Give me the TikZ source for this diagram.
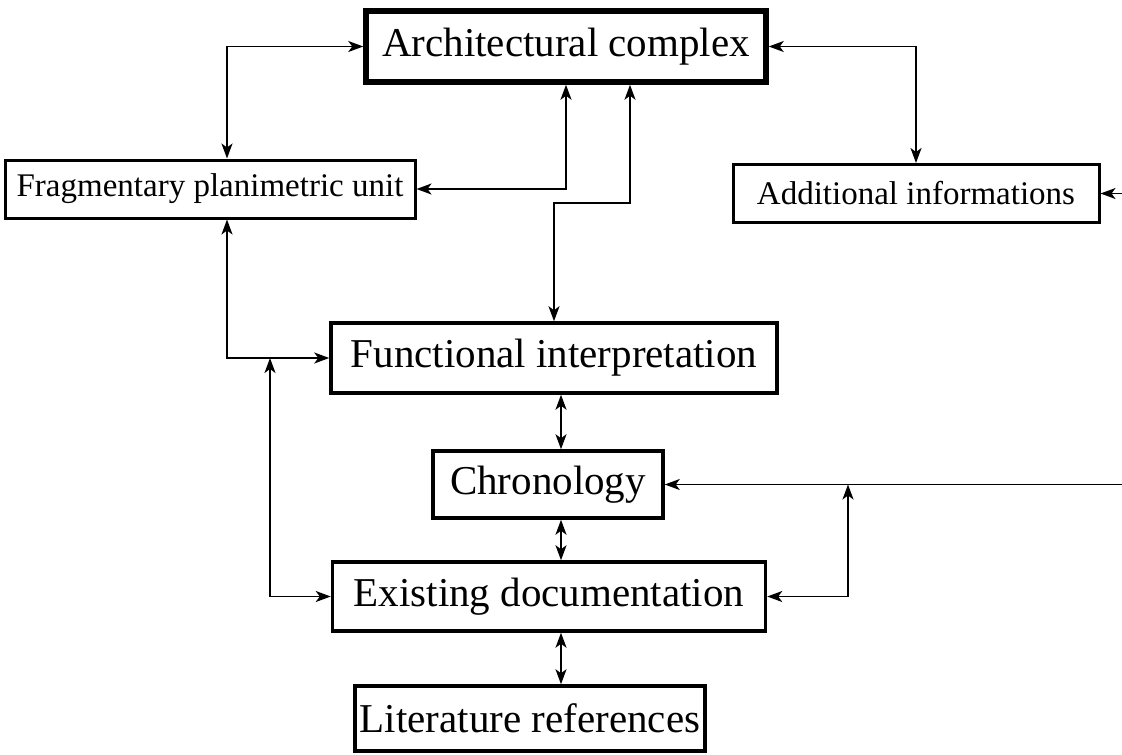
\documentclass[tikz,border=0pt]{standalone}
\usepackage{fontspec}
\setmainfont{Liberation Serif}
\usetikzlibrary{arrows.meta}
\tikzset{
  box/.style={draw, line width=3.5pt, inner sep=0pt, font=\fontsize{41}{48}\selectfont},
  smallbox/.style={draw, line width=3pt, inner sep=0pt, font=\fontsize{33}{40}\selectfont},
  link/.style={line width=1.6pt, {Stealth[length=15pt,width=11pt,inset=4pt]}-{Stealth[length=15pt,width=11pt,inset=4pt]}},
  feed/.style={line width=1.6pt, -{Stealth[length=15pt,width=11pt,inset=4pt]}},
}
\begin{document}
\begin{tikzpicture}[x=1pt, y=-1pt]
	\useasboundingbox (0,0) rectangle (1122,755);
	\node[box, line width=5.5pt, minimum width=400pt, minimum height=71pt] (arch) at (566,46.5) {Architectural complex};
	\node[smallbox, minimum width=410pt, minimum height=58pt] (frag) at (210,189) {Fragmentary planimetric unit};
	\node[smallbox, minimum width=366pt, minimum height=58pt] (addi) at (916,193.5) {Additional informations};
	\node[box, minimum width=446pt, minimum height=70pt] (func) at (554,358) {Functional interpretation};
	\node[box, minimum width=230pt, minimum height=67pt] (chron) at (548,484.5) {Chronology};
	\node[box, minimum width=433pt, minimum height=69pt] (exist) at (549,596.5) {Existing documentation};
	\node[box, minimum width=350pt, minimum height=65pt] (lit) at (530,718.5) {Literature references};
	\coordinate (left1) at (227,0);
	\coordinate (left2) at (270,0);
	\coordinate (spine) at (561,0);
	\coordinate (bendA) at (630,203);
	\coordinate (right1) at (848,0);
	\coordinate (edge) at (1122,0);
	\draw[link] (arch.west) -| (left1 |- frag.north);
	\draw[link] (arch.east) -| (addi.north);
	\draw[link] (arch.south) |- (frag.east);
	\draw[link] (arch.south -| bendA) -- (bendA) -| (func.north);
	\draw[link] (frag.south -| left1) |- (func.west);
	\draw[link] (left2 |- func.west) |- (exist.west);
	\draw[link] (func.south -| spine) -- (chron.north -| spine);
	\draw[link] (chron.south -| spine) -- (exist.north -| spine);
	\draw[link] (exist.south -| spine) -- (lit.north -| spine);
	\draw[link] (right1 |- chron.east) |- (exist.east);
	\draw[feed] (edge |- chron.east) -- (chron.east);
	\draw[feed] (edge |- addi.east) -- (addi.east);
\end{tikzpicture}
\end{document}
